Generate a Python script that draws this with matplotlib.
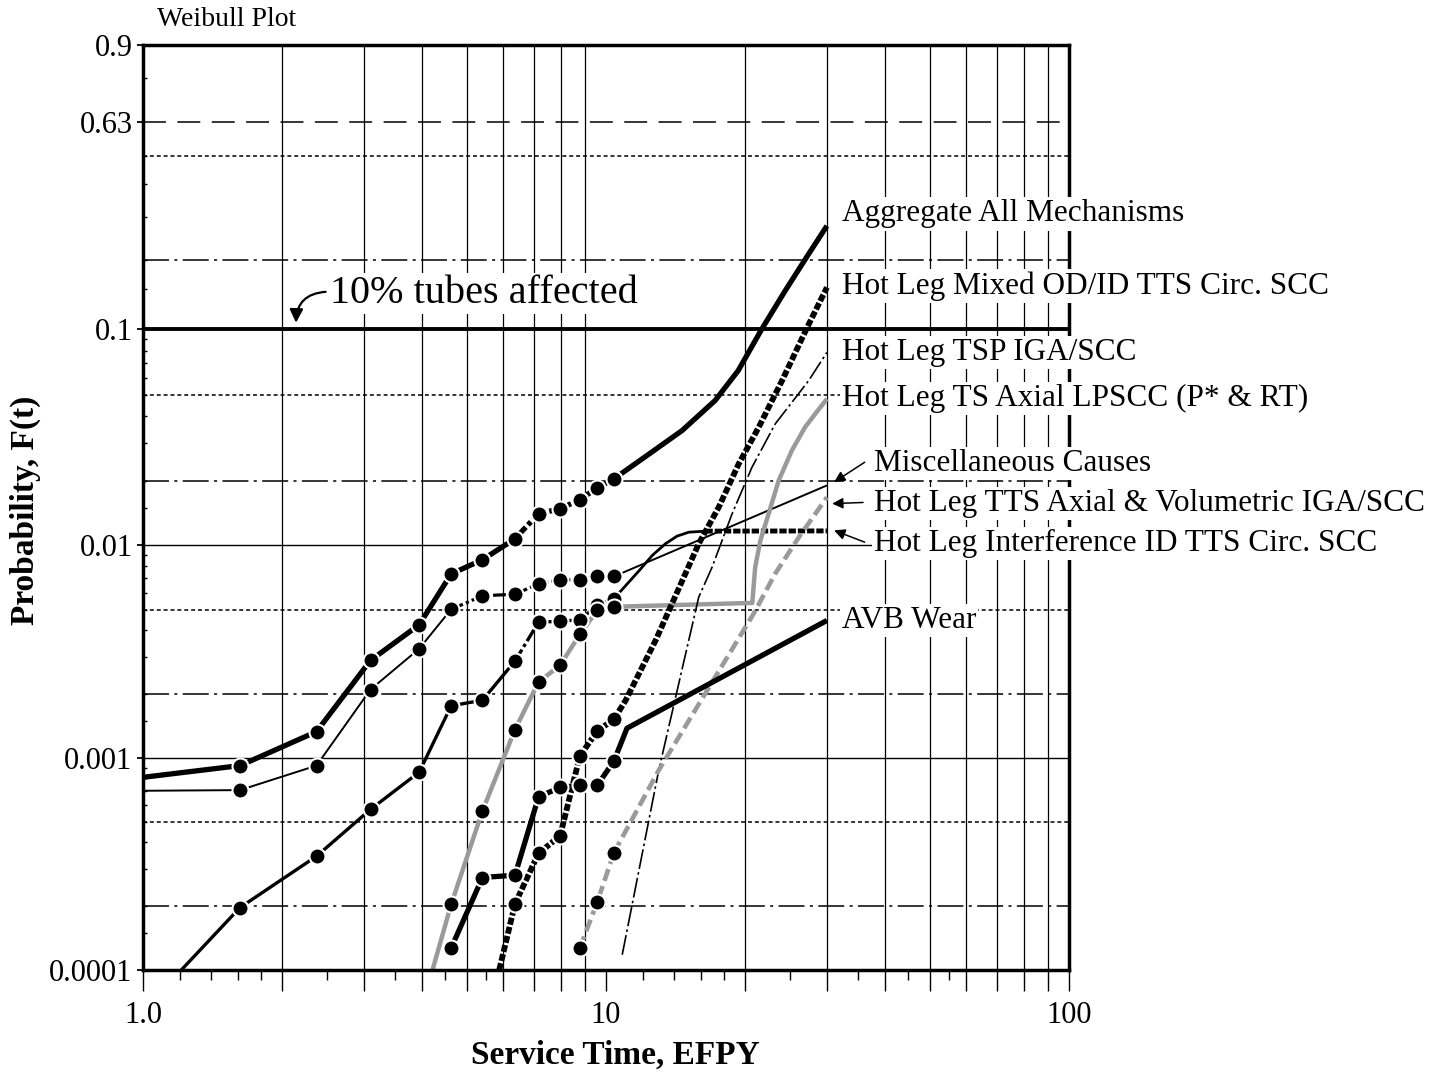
import numpy as np
import matplotlib
matplotlib.use("Agg")
import matplotlib.pyplot as plt
from matplotlib.ticker import NullFormatter

plt.rcParams['font.family'] = ['Liberation Serif', 'DejaVu Serif']
plt.rcParams['lines.solid_capstyle'] = 'butt'

# service time of each inspection (EFPY)
outage_t = [1.62, 2.37, 3.10, 3.95, 4.63, 5.41, 6.36, 7.15, 7.96, 8.78, 9.58, 10.4]

# aggregate all mechanisms
agg_t = [1.0] + outage_t
agg_f = [0.00081, 0.00092, 0.00133, 0.00288, 0.00424, 0.00735, 0.00857, 0.01075,
         0.0141, 0.01485, 0.0164, 0.0186, 0.0205]
agg_fit_t = [10.4, 12.4, 14.6, 17.2, 19.3, 21.7, 24.4, 27.4, 30.0]
agg_fit_f = [0.0205, 0.0268, 0.0344, 0.0473, 0.0649, 0.100, 0.148, 0.212, 0.276]

# miscellaneous causes
misc_t = [1.0] + outage_t
misc_f = [0.0007, 0.000705, 0.00092, 0.0021, 0.00327, 0.00501, 0.0058, 0.0059,
          0.0066, 0.0069, 0.0069, 0.00715, 0.00715]
misc_fit_t = [10.4, 30.0]
misc_fit_f = [0.00715, 0.0191]

# hot leg interference ID TTS circ. SCC
intf_t = [1.21] + outage_t
intf_f = [0.0001, 0.000197, 0.000344, 0.000572, 0.000857, 0.00176, 0.00187, 0.00286,
          0.00436, 0.0044, 0.00448, 0.00523, 0.00562]
intf_fit_t = [10.4, 11.8, 12.59, 13.45, 14.24, 15.1, 16.4]
intf_fit_f = [0.00562, 0.00763, 0.00898, 0.0102, 0.01106, 0.01154, 0.01167]
intf_flat_t = [16.4, 30.0]
intf_flat_f = [0.01167, 0.0117]

# hot leg TS axial LPSCC (P* & RT)
lp_t = [4.22, 4.63, 5.41, 6.36, 7.15, 7.96, 8.78, 9.58, 10.4]
lp_f = [0.0001, 0.000204, 0.000563, 0.00136, 0.00228, 0.00273, 0.00382, 0.00497, 0.00515]
lp_fit_t = [10.4, 20.7, 21.0, 21.55, 22.45, 23.6, 25.2, 26.9, 28.3, 30.0]
lp_fit_f = [0.00515, 0.00537, 0.00791, 0.01055, 0.01407, 0.02013, 0.02778, 0.0356, 0.04107, 0.04815]

# hot leg mixed OD/ID TTS circ. SCC
mix_t = [5.88, 6.36, 7.15, 7.96, 8.78, 9.58, 10.4]
mix_f = [0.0001, 0.000205, 0.000355, 0.000429, 0.00102, 0.00134, 0.00152]
mix_fit_t = [10.4, 11.03, 12.8, 15.86, 17.52, 19.35, 21.37, 24.0, 27.2, 30.0]
mix_fit_f = [0.00152, 0.00187, 0.00358, 0.01019, 0.01511, 0.02409, 0.0356, 0.0584, 0.1017, 0.1526]

# hot leg TSP IGA/SCC (fit only)
tsp_t = [10.84, 13.0, 15.86, 16.95, 18.72, 20.67, 23.2, 27.4, 30.0]
tsp_f = [0.000118, 0.000875, 0.00572, 0.00791, 0.01407, 0.02323, 0.03692, 0.05841, 0.0785]

# hot leg TTS axial & volumetric IGA/SCC
tts_t = [8.78, 9.58, 10.4]
tts_f = [0.000127, 0.00021, 0.000357]
tts_fit_t = [10.4, 13.0, 20.84, 23.2, 26.1, 30.0]
tts_fit_f = [0.000357, 0.000875, 0.00478, 0.00737, 0.01094, 0.0168]

# AVB wear
avb_t = outage_t[4:]
avb_f = [0.000127, 0.000273, 0.00028, 0.000655, 0.000726, 0.000744, 0.000744, 0.000966]
avb_fit_t = [10.4, 11.1, 30.0]
avb_fit_f = [0.000966, 0.00138, 0.00444]

# grid levels
vgrid_t = [2, 3, 4, 5, 6, 7, 8, 9, 20, 30, 40, 50, 60, 70, 80, 90]
solid_f = [0.001, 0.01]
dashdot_f = [0.0002, 0.002, 0.02, 0.2]
dotted_f = [0.0005, 0.005, 0.05, 0.5]

x_major = [1, 2, 3, 4, 5, 6, 7, 8, 9, 10, 20, 30, 40, 50, 60, 70, 80, 90, 100]
x_labels = ['1.0'] + [''] * 8 + ['10'] + [''] * 8 + ['100']
x_minor = [1.2, 1.4, 1.6, 1.8, 2.5, 3.5, 4.5, 5.5, 12, 14, 16, 18, 25, 35, 45, 55]
y_major = [0.0001, 0.001, 0.01, 0.1, 0.63, 0.9]
y_labels = ['0.0001', '0.001', '0.01', '0.1', '0.63', '0.9']
y_minor = [0.00015, 0.0002, 0.0003, 0.0004, 0.0005, 0.0006, 0.0007, 0.0008, 0.0009,
           0.0015, 0.002, 0.003, 0.004, 0.005, 0.006, 0.007, 0.008, 0.009,
           0.015, 0.02, 0.03, 0.04, 0.05, 0.06, 0.07, 0.08, 0.09,
           0.15, 0.2, 0.3, 0.4, 0.5, 0.8]


def weibull(f):
    f = np.clip(np.asarray(f, dtype=float), 1e-12, 1 - 1e-12)
    return np.log(-np.log1p(-f))


def weibull_inv(w):
    return -np.expm1(-np.exp(w))


fig = plt.figure(figsize=(14.42, 10.78), dpi=100)
ax = fig.add_axes([143 / 1442, 108 / 1078, 926 / 1442, 925 / 1078])
ax.set_xscale('log')
ax.set_yscale('function', functions=(weibull, weibull_inv))
ax.set_xlim(1, 100)
ax.set_ylim(0.0001, 0.9)

# grid
for t in vgrid_t:
    ax.axvline(t, color='black', lw=0.9, zorder=1)
for f in solid_f:
    ax.axhline(f, color='black', lw=1.0, zorder=1)
ax.axhline(0.1, color='black', lw=2.8, zorder=1)
for f in dashdot_f:
    ax.axhline(f, color='black', lw=1.1, ls=(0, (17, 3.5, 2, 3.5)), zorder=1)
for f in dotted_f:
    ax.axhline(f, color='black', lw=1.1, ls=(0, (2.6, 1.9)), zorder=1)
ax.axhline(0.63, color='black', lw=1.1, ls=(0, (15, 7.5)), zorder=1)

gray = '#9a9a9a'
mk = dict(marker='o', ms=11.5, mfc='black', mec='white', mew=1.5, ls='none', zorder=5)

# aggregate
ax.plot(agg_t[:8], agg_f[:8], color='black', lw=3.8, zorder=3)
ax.plot(agg_t[7:], agg_f[7:], color='black', lw=3.8, ls=(0, (3, 0.6, 0.8, 0.6)), zorder=3)
ax.plot(agg_fit_t, agg_fit_f, color='black', lw=3.8, zorder=3, solid_joinstyle='round')
ax.plot(agg_t[1:], agg_f[1:], **mk)

# miscellaneous
ax.plot(misc_t[:6], misc_f[:6], color='black', lw=1.4, zorder=3)
ax.plot(misc_t[5:], misc_f[5:], color='black', lw=2.3, ls=(0, (4, 1, 1, 1)), zorder=3)
ax.plot(misc_fit_t, misc_fit_f, color='black', lw=1.4, zorder=3)
ax.plot(misc_t[1:], misc_f[1:], **mk)

# interference ID TTS circ
ax.plot(intf_t[:8], intf_f[:8], color='black', lw=2.4, zorder=3)
ax.plot(intf_t[7:], intf_f[7:], color='black', lw=2.4, ls=(0, (4, 1, 1, 1)), zorder=3)
ax.plot(intf_fit_t, intf_fit_f, color='black', lw=2.0, zorder=3)
ax.plot(intf_flat_t, intf_flat_f, color='black', lw=3.5, ls=(0, (1.5, 0.4)), zorder=3)
ax.plot(intf_t[1:], intf_f[1:], **mk)

# LPSCC (gray solid)
ax.plot(lp_t, lp_f, color=gray, lw=3.2, zorder=3)
ax.plot(lp_fit_t, lp_fit_f, color=gray, lw=3.2, zorder=3, solid_joinstyle='round')
ax.plot(lp_t[1:], lp_f[1:], **mk)

# mixed OD/ID (thick dotted)
dots = (0, (1.2, 0.4))
ax.plot(mix_t, mix_f, color='black', lw=4.2, ls=dots, zorder=3)
ax.plot(mix_fit_t, mix_fit_f, color='black', lw=4.2, ls=dots, zorder=3)
ax.plot(mix_t[1:], mix_f[1:], **mk)

# TSP IGA/SCC (thin dash-dot)
ax.plot(tsp_t, tsp_f, color='black', lw=1.2, ls=(0, (12, 2, 1.5, 2)), zorder=3)

# TTS axial & volumetric (gray dashed)
ax.plot(tts_t, tts_f, color=gray, lw=3.3, ls=(0, (2.7, 1.2)), zorder=3)
ax.plot(tts_fit_t, tts_fit_f, color=gray, lw=3.3, ls=(0, (2.7, 1.2)), zorder=3)
ax.plot(tts_t, tts_f, **mk)

# AVB wear
ax.plot(avb_t, avb_f, color='black', lw=3.8, zorder=3)
ax.plot(avb_fit_t, avb_fit_f, color='black', lw=3.8, zorder=3)
ax.plot(avb_t, avb_f, **mk)

# curve labels on the right
box = dict(facecolor='white', edgecolor='none', pad=1.5)
names = ["Aggregate All Mechanisms", "Hot Leg Mixed OD/ID TTS Circ. SCC",
         "Hot Leg TSP IGA/SCC", "Hot Leg TS Axial LPSCC (P* & RT)",
         "Miscellaneous Causes", "Hot Leg TTS Axial & Volumetric IGA/SCC",
         "Hot Leg Interference ID TTS Circ. SCC", "AVB Wear"]
name_t = [32.3, 32.3, 32.3, 32.3, 38.0, 38.0, 38.0, 32.3]
name_f = [0.308, 0.155, 0.0783, 0.0483, 0.0242, 0.0157, 0.0102, 0.00444]
for s, t, f in zip(names, name_t, name_f):
    ax.text(t, f, s, fontsize=22.5, ha='left', va='center', bbox=box, zorder=10, clip_on=False)

arrow = dict(arrowstyle='-|>', color='black', lw=1.1, mutation_scale=16, shrinkA=0, shrinkB=0)
ax.annotate('', xy=(31.1, 0.0198), xytext=(36.2, 0.0245), arrowprops=arrow, zorder=11, annotation_clip=False)
ax.annotate('', xy=(30.8, 0.0157), xytext=(35.9, 0.0159), arrowprops=arrow, zorder=11, annotation_clip=False)
ax.annotate('', xy=(31.1, 0.01176), xytext=(36.2, 0.01036), arrowprops=arrow, zorder=11, annotation_clip=False)

# 10% line note
ax.text(2.53, 0.143, '10% tubes affected', fontsize=29, ha='left', va='center', bbox=box, zorder=10)
ax.annotate('', xy=(2.14, 0.1067), xytext=(2.48, 0.146),
            arrowprops=dict(arrowstyle='-|>', color='black', lw=1.6, mutation_scale=20,
                            shrinkA=0, shrinkB=0, connectionstyle='arc3,rad=0.45'), zorder=11)

# ticks
ax.set_xticks(x_major, labels=x_labels)
ax.set_xticks(x_minor, minor=True)
ax.xaxis.set_minor_formatter(NullFormatter())
ax.set_yticks(y_major, labels=y_labels)
ax.set_yticks(y_minor, minor=True)
ax.yaxis.set_minor_formatter(NullFormatter())
ax.tick_params(axis='x', which='major', direction='out', length=15, width=1.0, labelsize=22, pad=7)
ax.tick_params(axis='x', which='minor', direction='out', length=7, width=1.0)
ax.tick_params(axis='y', which='major', direction='out', length=4.5, width=1.3, labelsize=22, pad=3)
ax.tick_params(axis='y', which='minor', direction='in', length=3, width=1.0)
for sp in ax.spines.values():
    sp.set_linewidth(2.5)
    sp.set_zorder(6)

fig.text(157 / 1442, 1 - 20 / 1078, 'Weibull Plot', fontsize=20, ha='left', va='center')
fig.text(615 / 1442, 1 - 1055 / 1078, 'Service Time, EFPY', fontsize=24, fontweight='bold',
         ha='center', va='center')
fig.text(25 / 1442, 1 - 510 / 1078, 'Probability, F(t)', fontsize=24, fontweight='bold',
         ha='center', va='center', rotation=90)

fig.savefig('out.png', dpi=100)
